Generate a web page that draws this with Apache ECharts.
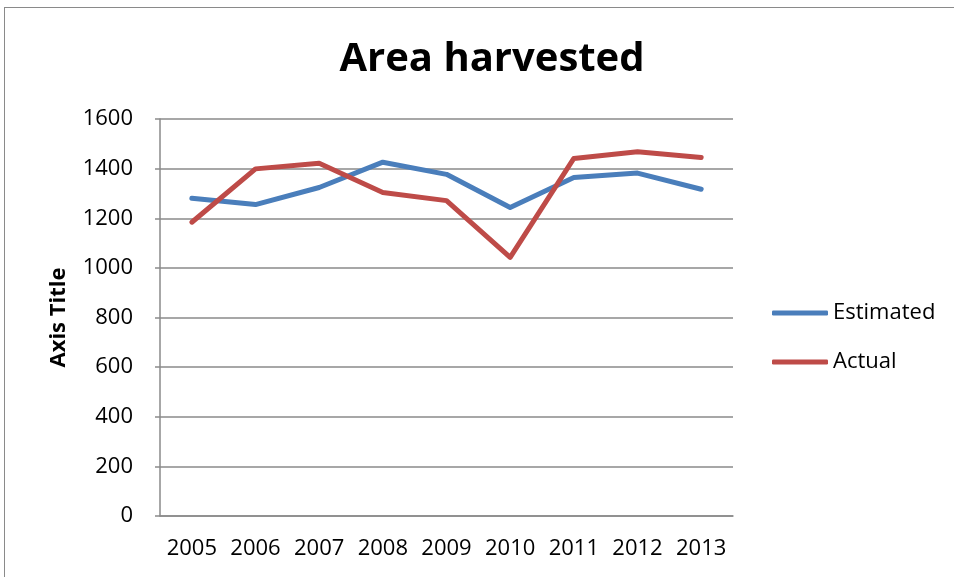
<!DOCTYPE html>
<html>
<head>
    <meta charset="UTF-8">
    <title>Area harvested</title>
    <script type="text/javascript" src="https://cdn.jsdelivr.net/npm/echarts@6.0.0/dist/echarts.min.js"></script>
    <style>
        body { margin: 0; background: #fff; }
        #frame { position: absolute; left: 4px; top: 7px; width: 960px; height: 600px;
                 border-left: 1.5px solid #8a8a8a; border-top: 1.5px solid #8a8a8a; }
        #chart { position: absolute; left: 0; top: 0; width: 954px; height: 577px; }
    </style>
</head>

<script>
    var years = ['2005', '2006', '2007', '2008', '2009', '2010', '2011', '2012', '2013'];
    var estimated = [1281, 1255, 1324, 1426, 1377, 1243, 1364, 1382, 1317];
    var actual = [1184, 1399, 1422, 1304, 1271, 1042, 1441, 1468, 1445];
    var yTicks = [0, 200, 400, 600, 800, 1000, 1200, 1400, 1600];

    var font = '"Open Sans", sans-serif';

    function lineSeries(name, data, color) {
        return {
            name: name,
            type: 'line',
            data: data,
            symbol: 'none',
            lineStyle: {color: color, width: 5, cap: 'round', join: 'round'},
            itemStyle: {color: color}
        };
    }

    window.onload = function () {
        var chart = echarts.init(document.getElementById('chart'));
        chart.setOption({
            animation: false,
            textStyle: {fontFamily: font},
            title: {
                text: 'Area harvested',
                left: 487,
                top: 35,
                textAlign: 'center',
                textStyle: {fontFamily: font, fontSize: 40, fontWeight: 'bold', color: '#000'}
            },
            legend: {
                orient: 'vertical',
                left: 772,
                top: 302,
                padding: 0,
                itemWidth: 56,
                itemHeight: 5,
                itemGap: 27,
                icon: 'roundRect',
                textStyle: {fontFamily: font, fontSize: 22, color: '#000'},
                data: ['Estimated', 'Actual']
            },
            grid: {left: 160, right: 221, top: 119, bottom: 61},
            xAxis: {
                type: 'category',
                data: years,
                boundaryGap: true,
                axisLine: {lineStyle: {color: '#8a8a8a', width: 1.5}},
                axisTick: {show: false},
                axisLabel: {fontFamily: font, fontSize: 22, color: '#000', margin: 22, interval: 0}
            },
            yAxis: {
                type: 'value',
                min: yTicks[0],
                max: yTicks[yTicks.length - 1],
                interval: 200,
                name: 'Axis Title',
                nameLocation: 'middle',
                nameGap: 90,
                nameTextStyle: {fontFamily: font, fontSize: 22, fontWeight: 'bold', color: '#000'},
                axisLine: {show: true, lineStyle: {color: '#8a8a8a', width: 1.5}},
                axisTick: {show: true, length: 5, lineStyle: {color: '#8a8a8a', width: 1.5}},
                axisLabel: {fontFamily: font, fontSize: 22, color: '#000', margin: 27,
                    formatter: function (v) { return String(v); }},
                splitLine: {lineStyle: {color: '#8a8a8a', width: 1.5}}
            },
            series: [
                lineSeries('Estimated', estimated, '#4a7ebb'),
                lineSeries('Actual', actual, '#be4b48')
            ]
        });
    };
</script>

<body>
<div id="frame"></div>
<div id="chart"></div>
</body>
</html>
